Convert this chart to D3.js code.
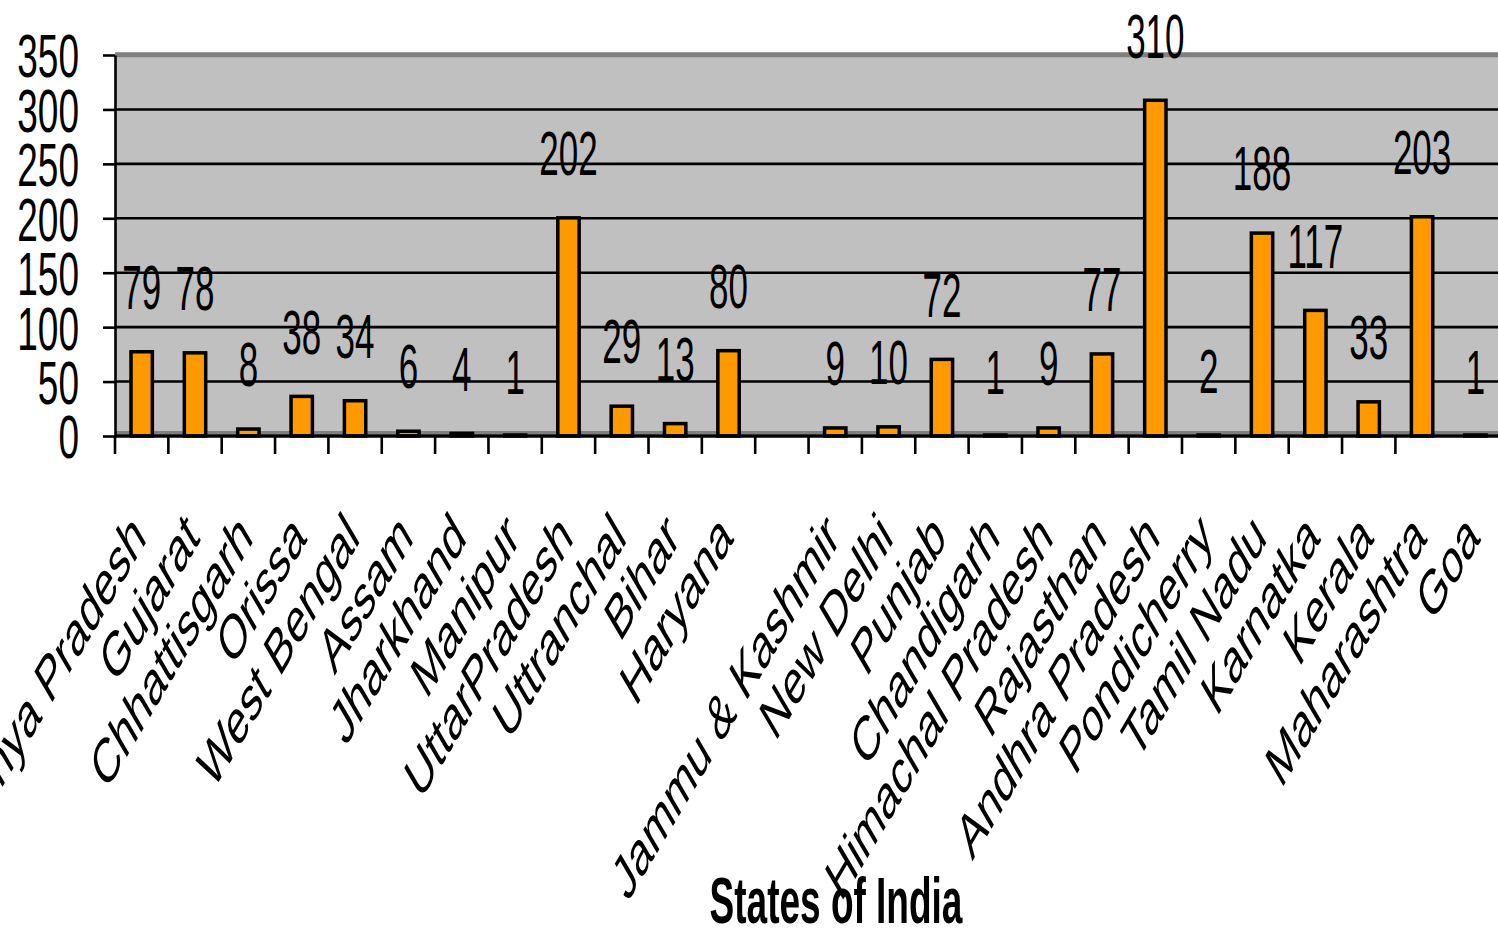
<!DOCTYPE html>
<html>
<head>
<meta charset="utf-8">
<script src="https://cdn.jsdelivr.net/npm/d3@7"></script>
<style>
  html, body { margin: 0; padding: 0; background: #ffffff; overflow: hidden; }
  svg { display: block; font-family: "Liberation Sans", Arial, sans-serif; }
</style>
</head>
<body>
<svg id="chart" width="1498" height="930"></svg>
<script>
// ---- data ----
const categories = ["Madhya Pradesh","Gujarat","Chhattisgarh","Orissa","West Bengal","Assam","Jharkhand","Manipur","UttarPradesh","Uttranchal","Bihar","Haryana","","Jammu & Kashmir","New Delhi","Punjab","Chandigarh","Himachal Pradesh","Rajasthan","Andhra Pradesh","Pondicherry","Tamil Nadu","Karnatka","Kerala","Maharashtra","Goa"];
const values = [79,78,8,38,34,6,4,1,202,29,13,80,null,9,10,72,1,9,77,310,2,188,117,33,203,1];
const yTicks = [0,50,100,150,200,250,300,350];
const axisTitle = "States of India";

// ---- layout ----
const W = 1498, H = 930;
const plotLeft = 115, step = 53.35;
const plotRight = plotLeft + step * categories.length;
const y0 = 436, yTop = 55;

const svg = d3.select("#chart");

const x = d3.scaleBand()
  .domain(categories.map((c, i) => i))
  .range([plotLeft, plotRight])
  .paddingInner(0.6)
  .paddingOuter(0.3);

const y = d3.scaleLinear().domain([0, 350]).range([y0, yTop]);

// plot background
svg.append("rect")
  .attr("x", plotLeft).attr("y", yTop)
  .attr("width", plotRight - plotLeft).attr("height", y0 - yTop)
  .attr("fill", "#c0c0c0");

// gridlines
svg.append("g").selectAll("line")
  .data(yTicks.filter(t => t > 0 && t < 350))
  .join("line")
  .attr("x1", plotLeft).attr("x2", plotRight)
  .attr("y1", d => y(d)).attr("y2", d => y(d))
  .attr("stroke", "#000").attr("stroke-width", 2.6);

// top border (dark gray)
svg.append("line")
  .attr("x1", plotLeft).attr("x2", plotRight)
  .attr("y1", y(350) - 0.3).attr("y2", y(350) - 0.3)
  .attr("stroke", "#808080").attr("stroke-width", 5);

// bottom floor strip
svg.append("line")
  .attr("x1", plotLeft).attr("x2", plotRight)
  .attr("y1", y0 - 3.5).attr("y2", y0 - 3.5)
  .attr("stroke", "#808080").attr("stroke-width", 3);

// bars
const bw = x.bandwidth();
svg.append("g").selectAll("rect")
  .data(values.map((v, i) => ({ v, i })).filter(d => d.v != null))
  .join("rect")
  .attr("x", d => x(d.i))
  .attr("y", d => Math.min(y(d.v) + 1.75, y0 - 1))
  .attr("width", bw)
  .attr("height", d => Math.max(1, y0 - y(d.v) - 1.75))
  .attr("fill", "#ff9900")
  .attr("stroke", "#000")
  .attr("stroke-width", 3.5);

// baseline
svg.append("line")
  .attr("x1", plotLeft).attr("x2", plotRight)
  .attr("y1", y0).attr("y2", y0)
  .attr("stroke", "#000").attr("stroke-width", 3.5);

// y axis
const yAxis = d3.axisLeft(y).tickValues(yTicks).tickSize(12).tickPadding(24).tickSizeOuter(0);
const yg = svg.append("g").attr("transform", `translate(${plotLeft},0)`).call(yAxis);
yg.select(".domain").attr("stroke", "#000").attr("stroke-width", 2.6);
yg.selectAll(".tick line").attr("stroke", "#000").attr("stroke-width", 2.6);
yg.selectAll(".tick text")
  .attr("font-family", "'Liberation Sans', Arial, sans-serif")
  .attr("font-size", 37)
  .attr("fill", "#000")
  .attr("dy", "0.358em")
  .attr("transform", "scale(1,1.65)");

// x ticks at category boundaries
const boundaries = categories.slice(0, categories.length - 1).map((c, i) => plotLeft + i * x.step());
svg.append("g").selectAll("line")
  .data(boundaries)
  .join("line")
  .attr("x1", d => d).attr("x2", d => d)
  .attr("y1", y0).attr("y2", y0 + 18)
  .attr("stroke", "#000").attr("stroke-width", 2.6);

// x labels (rotated, stretched)
svg.append("g").selectAll("text")
  .data(categories.map((c, i) => ({ c, i })).filter(d => d.c !== ""))
  .join("text")
  .attr("transform", d => `translate(${x(d.i) + bw / 2 + 6},540) scale(1,1.7) rotate(-45)`)
  .attr("text-anchor", "end")
  .attr("font-size", 37)
  .attr("fill", "#000")
  .text(d => d.c);

// data labels
svg.append("g").selectAll("text")
  .data(values.map((v, i) => ({ v, i })).filter(d => d.v != null))
  .join("text")
  .attr("transform", d => `translate(${x(d.i) + bw / 2},${y(d.v) - 41}) scale(1,1.8)`)
  .attr("text-anchor", "middle")
  .attr("font-size", 35)
  .attr("fill", "#000")
  .text(d => d.v);

// axis title
svg.append("text")
  .attr("transform", `translate(836,923) scale(1,1.74)`)
  .attr("text-anchor", "middle")
  .attr("font-size", 37)
  .attr("font-weight", "bold")
  .attr("fill", "#000")
  .text(axisTitle);
</script>
</body>
</html>
